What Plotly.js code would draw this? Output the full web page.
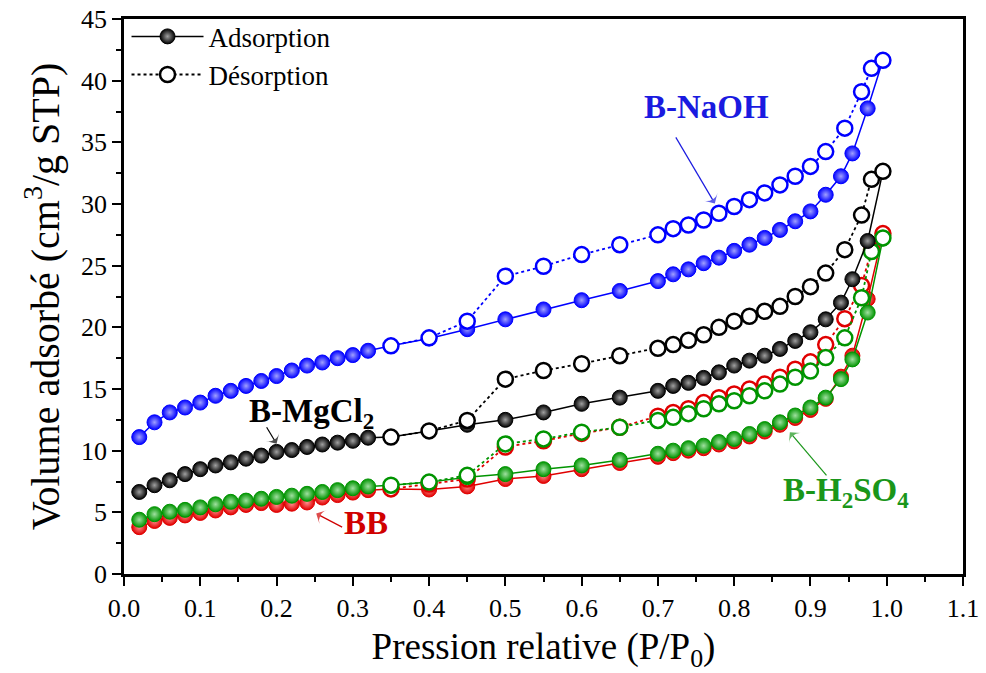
<!DOCTYPE html>
<html>
<head>
<meta charset="utf-8">
<script src="https://cdn.plot.ly/plotly-3.0.1.min.js"></script>
<style>html,body{margin:0;padding:0;background:#fff;}#chart{width:986px;height:673px;}</style>
</head>
<body>
<div id="chart"></div>
<script>
// Relative pressure grids (P/P0)
var pAds = [0.02,0.04,0.06,0.08,0.10,0.12,0.14,0.16,0.18,0.20,0.22,0.24,0.26,0.28,0.30,0.32,0.35,0.40,0.45,0.50,0.55,0.60,0.65,0.70,0.72,0.74,0.76,0.78,0.80,0.82,0.84,0.86,0.88,0.90,0.92,0.94,0.955,0.975,0.995];
var pDes = [0.35,0.40,0.45,0.50,0.55,0.60,0.65,0.70,0.72,0.74,0.76,0.78,0.80,0.82,0.84,0.86,0.88,0.90,0.92,0.945,0.967,0.98,0.995];

// Adsorbed volume (cm3/g STP)
var naohAds = [11.1,12.3,13.1,13.5,13.9,14.45,14.85,15.25,15.65,16.05,16.5,16.9,17.15,17.5,17.75,18.1,18.5,19.1,19.85,20.65,21.45,22.2,22.95,23.75,24.3,24.7,25.2,25.65,26.2,26.7,27.25,27.9,28.6,29.4,30.75,32.25,34.1,37.75,41.65];
var naohDes = [18.5,19.15,20.5,24.15,24.95,25.9,26.7,27.5,28.0,28.3,28.7,29.25,29.8,30.35,30.9,31.55,32.25,33.05,34.25,36.15,39.1,41.0,41.65];

var mgAds = [6.65,7.2,7.6,8.1,8.5,8.8,9.05,9.35,9.6,9.9,10.05,10.3,10.5,10.65,10.8,11.05,11.1,11.6,12.1,12.5,13.1,13.8,14.3,14.85,15.25,15.5,15.9,16.35,16.9,17.3,17.7,18.25,18.9,19.6,20.65,22.0,23.9,27.0,32.65];
var mgDes = [11.1,11.6,12.45,15.8,16.5,17.05,17.7,18.3,18.6,18.95,19.4,20.0,20.5,20.9,21.3,21.7,22.5,23.3,24.4,26.3,29.1,32.0,32.65];

var h2so4Ads = [4.4,4.85,5.05,5.2,5.4,5.65,5.85,5.95,6.1,6.25,6.35,6.5,6.65,6.8,6.95,7.1,7.2,7.45,7.85,8.1,8.5,8.8,9.25,9.75,10.0,10.2,10.4,10.7,10.95,11.35,11.75,12.3,12.85,13.5,14.3,15.8,17.4,21.2,27.2];
var h2so4Des = [7.2,7.45,8.0,10.55,10.95,11.5,11.9,12.45,12.7,13.0,13.4,13.8,14.05,14.45,14.85,15.4,15.95,16.45,17.55,19.15,22.4,26.15,27.25];

var bbAds = [3.8,4.3,4.55,4.75,4.95,5.15,5.4,5.6,5.75,5.6,5.7,5.8,6.2,6.4,6.6,6.8,6.9,6.85,7.1,7.7,7.95,8.5,9.0,9.5,9.8,10.0,10.2,10.5,10.75,11.15,11.55,12.1,12.65,13.3,14.2,16.0,17.7,22.3,27.6];
var bbDes = [6.9,7.3,7.7,10.3,10.8,11.4,11.9,12.8,13.1,13.4,13.9,14.3,14.6,15.0,15.4,15.95,16.6,17.2,18.6,20.7,23.4,26.3,27.6];

var xTicks = [0.0,0.1,0.2,0.3,0.4,0.5,0.6,0.7,0.8,0.9,1.0,1.1];
var xTickText = ['0.0','0.1','0.2','0.3','0.4','0.5','0.6','0.7','0.8','0.9','1.0','1.1'];
var yTicks = [0,5,10,15,20,25,30,35,40,45];

// Label pointer arrows: [tail P, tail V] -> [tip P, tip V]
var arrowNaOH = {x: [0.7235, 0.7746], y: [35.4, 30.05]};
var arrowMg = {x: [0.187, 0.2], y: [11.9, 10.56]};
var arrowBB = {x: [0.286, 0.252], y: [3.8, 4.9]};
var arrowH2 = {x: [0.921, 0.873], y: [8.0, 11.5]};

var SERIF = "Liberation Serif, Times New Roman, serif";

function ads(x, y, color, light, name, legend) {
  return {x: x, y: y, type: 'scatter', mode: 'lines+markers', name: name, showlegend: legend,
    line: {color: color, width: 1.5, dash: 'solid'},
    marker: {symbol: 'circle', size: 15, color: color, line: {color: color, width: 1},
      gradient: {type: 'radial', color: light}}};
}
function des(x, y, color, name, legend) {
  return {x: x, y: y, type: 'scatter', mode: 'lines+markers', name: name, showlegend: legend,
    line: {color: color, width: 1.8, dash: 'dot'},
    marker: {symbol: 'circle', size: 15, color: '#ffffff', line: {color: color, width: 2.5}}};
}
function pointer(a, color) {
  return {x: a.x, y: a.y, type: 'scatter', mode: 'lines+markers', showlegend: false, hoverinfo: 'skip',
    line: {color: color, width: 1.2},
    marker: {symbol: ['circle', 'arrow-wide'], size: [0, 11], angleref: 'previous', color: color, line: {width: 0}}};
}

var RED = '#e00000', GREEN = '#009400', BLACK = '#000000', BLUE = '#0000ff';

var data = [
  ads(pAds, bbAds, RED, '#ff9090', 'BB ads', false),
  des(pDes, bbDes, RED, 'BB des', false),
  ads(pAds, h2so4Ads, GREEN, '#a0e0a0', 'H2SO4 ads', false),
  des(pDes, h2so4Des, GREEN, 'H2SO4 des', false),
  ads(pAds, mgAds, BLACK, '#a0a0a0', 'Adsorption', true),
  des(pDes, mgDes, BLACK, 'Désorption', true),
  ads(pAds, naohAds, BLUE, '#a0a0ff', 'NaOH ads', false),
  des(pDes, naohDes, BLUE, 'NaOH des', false),
  pointer(arrowNaOH, '#1a1ae0'),
  pointer(arrowMg, '#000000'),
  pointer(arrowBB, '#d00000'),
  pointer(arrowH2, '#1a961a')
];

function label(text, x, y, color) {
  return {x: x, y: y, xref: 'x', yref: 'y', text: text, showarrow: false,
    font: {family: SERIF, size: 33, color: color, weight: 'bold'}, xanchor: 'center', yanchor: 'middle'};
}

var layout = {
  width: 986, height: 673,
  margin: {l: 124, r: 23, t: 17, b: 99},
  paper_bgcolor: '#ffffff', plot_bgcolor: '#ffffff',
  font: {family: SERIF, color: '#000000'},
  showlegend: true,
  legend: {x: 0.003, y: 1.012, xanchor: 'left', yanchor: 'top', bgcolor: 'rgba(0,0,0,0)',
    font: {family: SERIF, size: 27, color: '#000000'}, itemwidth: 72, tracegroupgap: 0},
  xaxis: {range: [0, 1.1], tickvals: xTicks, ticktext: xTickText, ticks: 'outside', ticklen: 9, tickwidth: 2,
    tickcolor: '#000', showline: true, linecolor: '#000', linewidth: 2.5, mirror: true,
    showgrid: false, zeroline: false, tickfont: {family: SERIF, size: 26, color: '#000'},
    minor: {dtick: 0.05, ticks: 'outside', ticklen: 5, tickwidth: 2, tickcolor: '#000', showgrid: false},
    title: {text: 'Pression relative (P/P<sub>0</sub>)', font: {family: SERIF, size: 37, color: '#000'}, standoff: 28}},
  yaxis: {range: [0, 45], tickvals: yTicks, ticks: 'outside', ticklen: 9, tickwidth: 2,
    tickcolor: '#000', showline: true, linecolor: '#000', linewidth: 2.5, mirror: true,
    showgrid: false, zeroline: false, tickfont: {family: SERIF, size: 26, color: '#000'},
    minor: {dtick: 2.5, ticks: 'outside', ticklen: 5, tickwidth: 2, tickcolor: '#000', showgrid: false},
    title: {text: 'Volume adsorbé (cm<sup>3</sup>/g STP)', font: {family: SERIF, size: 40, color: '#000'}, standoff: 10}},
  annotations: [
    label('B-NaOH', 0.764, 37.9, '#1a1ae0'),
    label('B-MgCl<sub>2</sub>', 0.246, 13.0, '#000000'),
    label('BB', 0.317, 4.1, '#d00000'),
    label('B-H<sub>2</sub>SO<sub>4</sub>', 0.946, 6.6, '#1a961a')
  ]
};

Plotly.newPlot('chart', data, layout, {displayModeBar: false, responsive: false});
</script>
</body>
</html>
